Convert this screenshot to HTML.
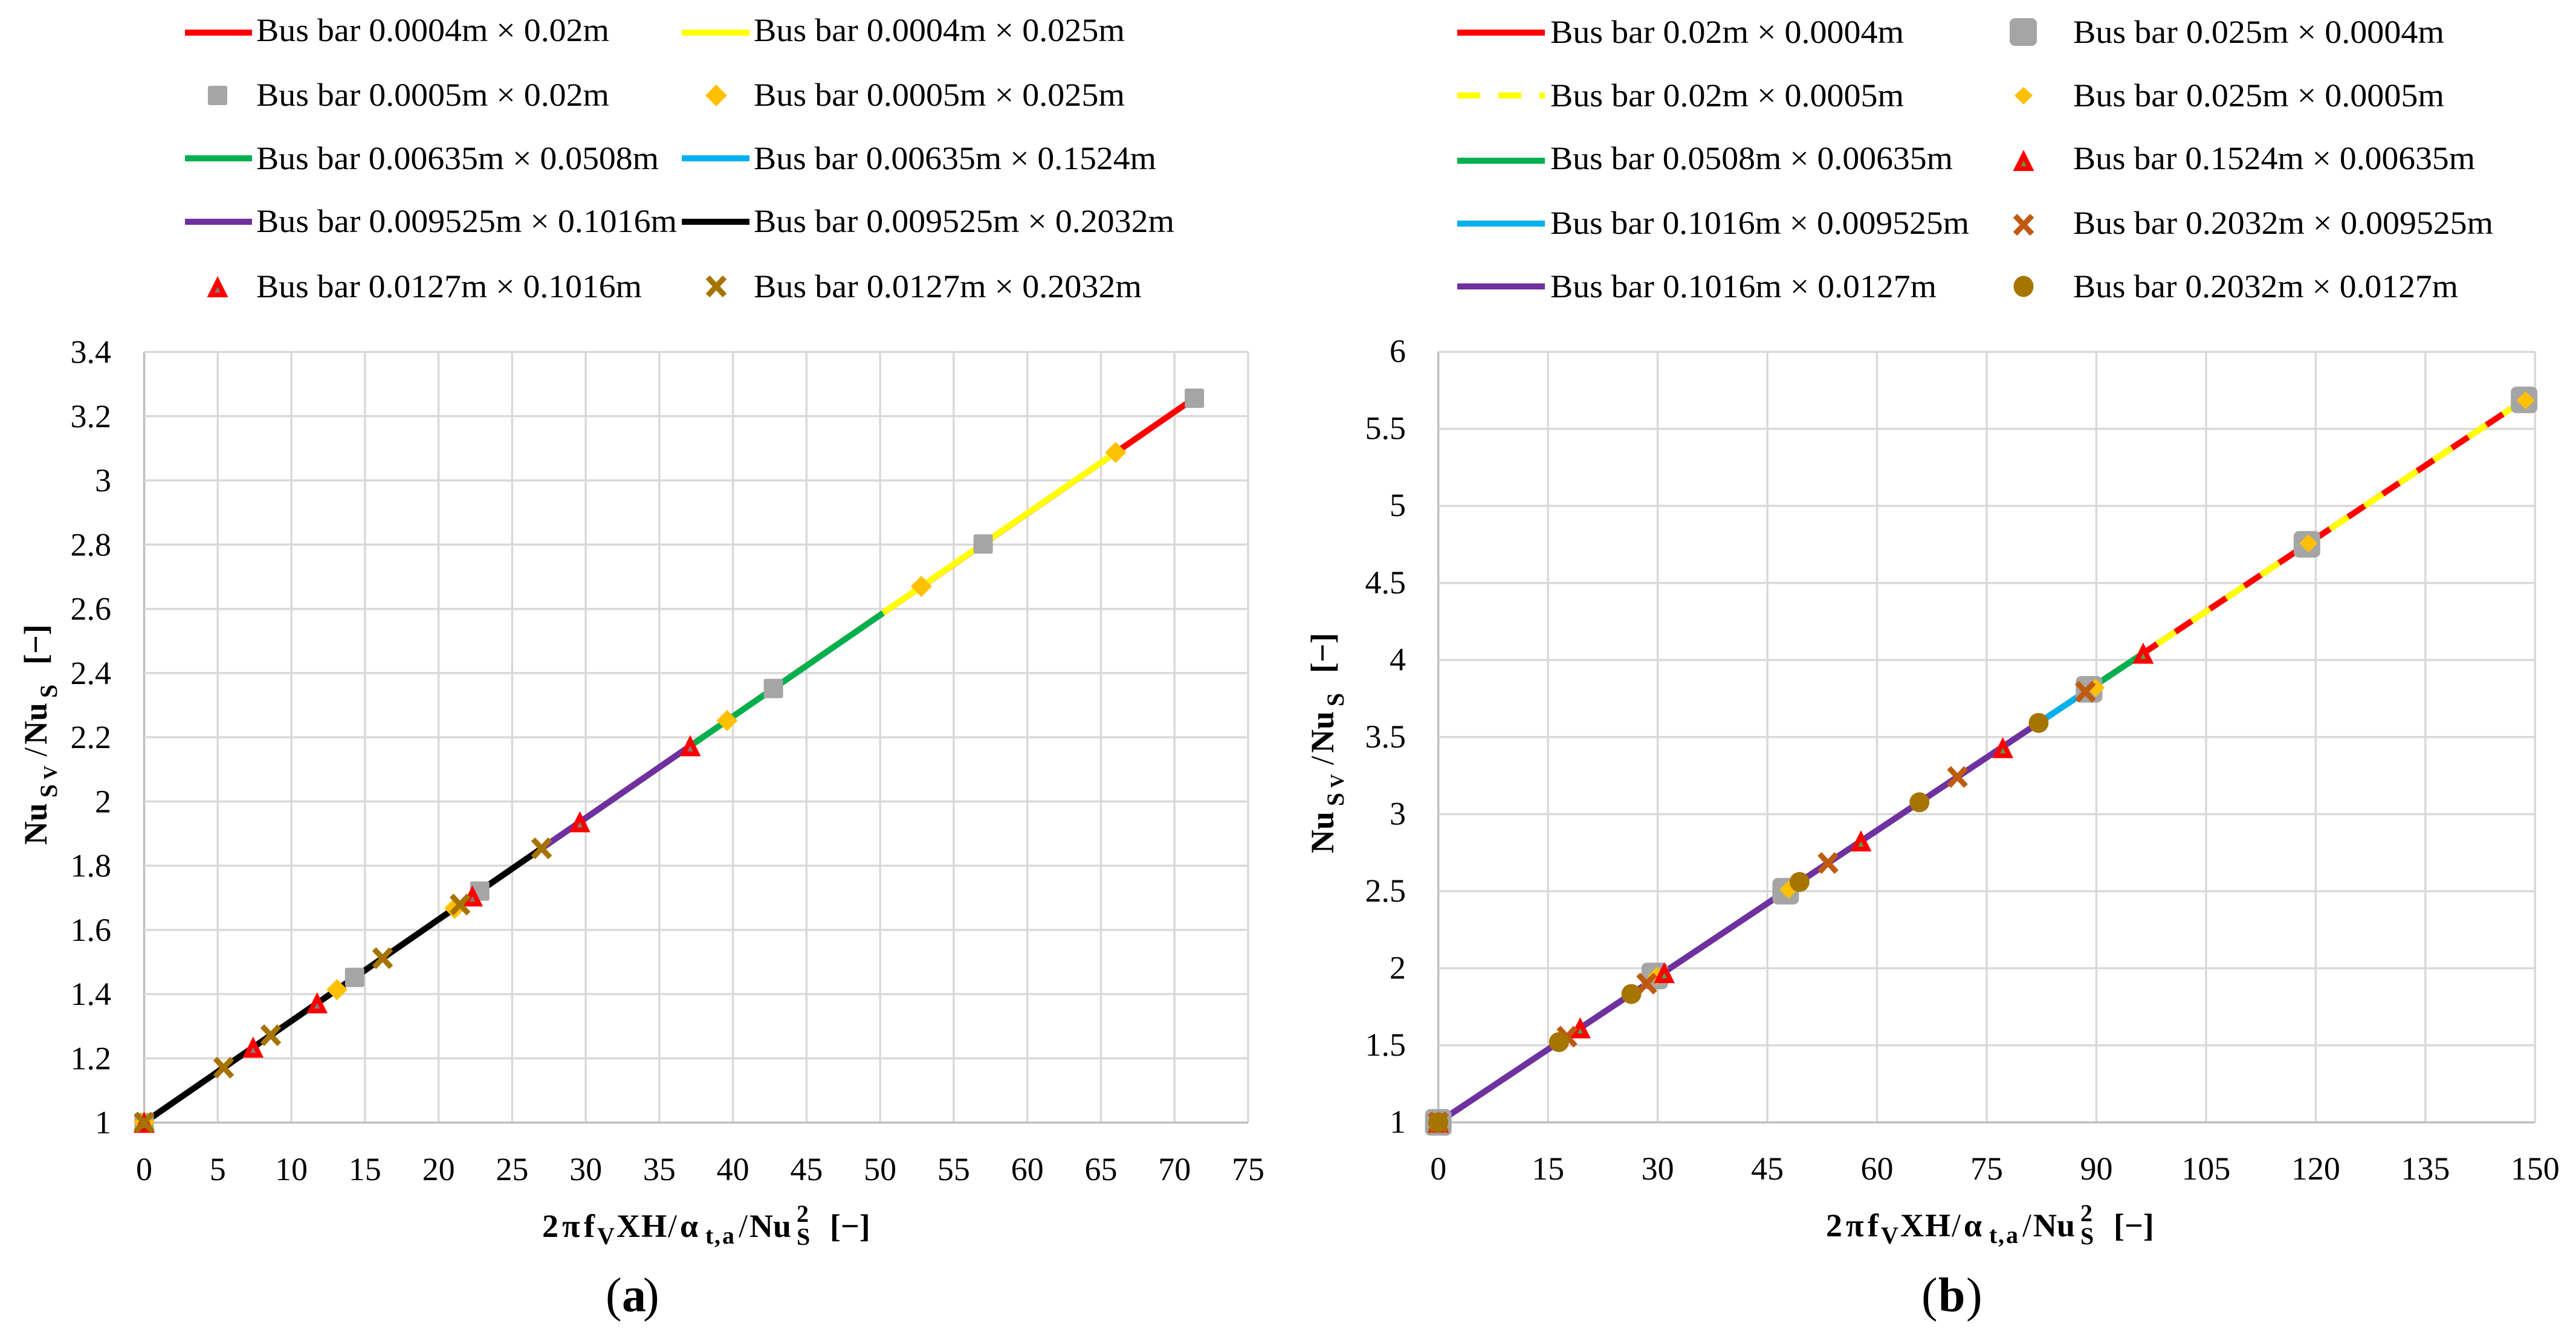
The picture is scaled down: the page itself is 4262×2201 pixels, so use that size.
<!DOCTYPE html>
<html lang="en">
<head>
<meta charset="utf-8">
<title>Nusselt number ratio charts</title>
<style>
html,body{margin:0;padding:0;background:#fff;}
svg{display:block;}
text{font-family:"Liberation Serif",serif;fill:#000;}
.leg{font-size:54px;}
.tick{font-size:54px;}
.title{font-size:54px;font-weight:bold;}
.sub{font-size:40px;font-weight:bold;}
.thin{font-weight:normal;}
.cap{font-size:80px;}
</style>
</head>
<body>
<svg id="figure" xmlns="http://www.w3.org/2000/svg" width="4262" height="2201" viewBox="0 0 4262 2201">
<rect x="0" y="0" width="4262" height="2201" fill="#fff"/>

<g id="legend-a">
  <line x1="306" y1="54" x2="417" y2="54" stroke="#FF0000" stroke-width="10"/>
  <text class="leg" x="424" y="68" textLength="584" lengthAdjust="spacingAndGlyphs">Bus bar 0.0004m × 0.02m</text>
  <line x1="1128" y1="54" x2="1240" y2="54" stroke="#FFFF00" stroke-width="10"/>
  <text class="leg" x="1247" y="68" textLength="614" lengthAdjust="spacingAndGlyphs">Bus bar 0.0004m × 0.025m</text>

  <rect x="344" y="142" width="32" height="32" rx="3" fill="#A5A5A5"/>
  <text class="leg" x="424" y="175" textLength="584" lengthAdjust="spacingAndGlyphs">Bus bar 0.0005m × 0.02m</text>
  <polygon points="1185,140 1203,158 1185,176 1167,158" fill="#FFC000"/>
  <text class="leg" x="1247" y="175" textLength="614" lengthAdjust="spacingAndGlyphs">Bus bar 0.0005m × 0.025m</text>

  <line x1="306" y1="262" x2="417" y2="262" stroke="#00B050" stroke-width="10"/>
  <text class="leg" x="424" y="280" textLength="666" lengthAdjust="spacingAndGlyphs">Bus bar 0.00635m × 0.0508m</text>
  <line x1="1128" y1="262" x2="1240" y2="262" stroke="#00B0F0" stroke-width="10"/>
  <text class="leg" x="1247" y="280" textLength="666" lengthAdjust="spacingAndGlyphs">Bus bar 0.00635m × 0.1524m</text>

  <line x1="306" y1="367" x2="417" y2="367" stroke="#7030A0" stroke-width="10"/>
  <text class="leg" x="424" y="384" textLength="696" lengthAdjust="spacingAndGlyphs">Bus bar 0.009525m × 0.1016m</text>
  <line x1="1128" y1="367" x2="1240" y2="367" stroke="#000000" stroke-width="10"/>
  <text class="leg" x="1247" y="384" textLength="696" lengthAdjust="spacingAndGlyphs">Bus bar 0.009525m × 0.2032m</text>

  <polygon points="360,466 349,488 371,488" fill="#808080" stroke="#FF0000" stroke-width="8"/>
  <text class="leg" x="424" y="492" textLength="638" lengthAdjust="spacingAndGlyphs">Bus bar 0.0127m × 0.1016m</text>
  <path d="M1171,459 L1199,489 M1199,459 L1171,489" stroke="#A57400" stroke-width="9" fill="none"/>
  <text class="leg" x="1247" y="492" textLength="642" lengthAdjust="spacingAndGlyphs">Bus bar 0.0127m × 0.2032m</text>
</g>

<g id="legend-b">
  <line x1="2411" y1="54" x2="2556" y2="54" stroke="#FF0000" stroke-width="10"/>
  <text class="leg" x="2565" y="71" textLength="585" lengthAdjust="spacingAndGlyphs">Bus bar 0.02m × 0.0004m</text>
  <rect x="3325" y="30" width="45" height="46" rx="9" fill="#A5A5A5"/>
  <text class="leg" x="3430" y="71" textLength="614" lengthAdjust="spacingAndGlyphs">Bus bar 0.025m × 0.0004m</text>

  <line x1="2411" y1="158" x2="2556" y2="158" stroke="#FFFF00" stroke-width="10" stroke-dasharray="38 30"/>
  <text class="leg" x="2565" y="176" textLength="585" lengthAdjust="spacingAndGlyphs">Bus bar 0.02m × 0.0005m</text>
  <polygon points="3348,144 3363,158 3348,173 3333,158" fill="#FFC000"/>
  <text class="leg" x="3430" y="176" textLength="614" lengthAdjust="spacingAndGlyphs">Bus bar 0.025m × 0.0005m</text>

  <line x1="2411" y1="266" x2="2556" y2="266" stroke="#00B050" stroke-width="10"/>
  <text class="leg" x="2565" y="280" textLength="666" lengthAdjust="spacingAndGlyphs">Bus bar 0.0508m × 0.00635m</text>
  <polygon points="3348,257 3337,279 3359,279" fill="#4CA64C" stroke="#FF0000" stroke-width="8"/>
  <text class="leg" x="3430" y="280" textLength="665" lengthAdjust="spacingAndGlyphs">Bus bar 0.1524m × 0.00635m</text>

  <line x1="2411" y1="370" x2="2556" y2="370" stroke="#00B0F0" stroke-width="10"/>
  <text class="leg" x="2565" y="387" textLength="693" lengthAdjust="spacingAndGlyphs">Bus bar 0.1016m × 0.009525m</text>
  <path d="M3334,357 L3362,387 M3362,357 L3334,387" stroke="#C05A11" stroke-width="9" fill="none"/>
  <text class="leg" x="3430" y="387" textLength="695" lengthAdjust="spacingAndGlyphs">Bus bar 0.2032m × 0.009525m</text>

  <line x1="2411" y1="474" x2="2556" y2="474" stroke="#7030A0" stroke-width="10"/>
  <text class="leg" x="2565" y="492" textLength="639" lengthAdjust="spacingAndGlyphs">Bus bar 0.1016m × 0.0127m</text>
  <ellipse cx="3348" cy="474" rx="16.5" ry="17.5" fill="#A67500"/>
  <text class="leg" x="3430" y="492" textLength="637" lengthAdjust="spacingAndGlyphs">Bus bar 0.2032m × 0.0127m</text>
</g>

<g id="plot-a"></g>
<g id="plot-b"></g>

<g>
  <text class="title" y="2047"><tspan x="897 930 966">2πf</tspan><tspan class="sub" x="988" y="2059">V</tspan><tspan x="1020 1061" y="2047">XH</tspan><tspan class="thin" x="1105">/</tspan><tspan x="1125">α</tspan><tspan class="sub" x="1167 1182 1195" y="2058">t,a</tspan><tspan class="thin" x="1222" y="2047">/</tspan><tspan x="1240">Nu</tspan><tspan class="sub" x="1318" y="2022">2</tspan><tspan class="sub" x="1318" y="2060">S</tspan><tspan x="1373" y="2047">[−]</tspan></text>
</g>
<g transform="translate(2124,-1)">
  <text class="title" y="2047"><tspan x="897 930 966">2πf</tspan><tspan class="sub" x="988" y="2059">V</tspan><tspan x="1020 1061" y="2047">XH</tspan><tspan class="thin" x="1105">/</tspan><tspan x="1125">α</tspan><tspan class="sub" x="1167 1182 1195" y="2058">t,a</tspan><tspan class="thin" x="1222" y="2047">/</tspan><tspan x="1240">Nu</tspan><tspan class="sub" x="1318" y="2022">2</tspan><tspan class="sub" x="1318" y="2060">S</tspan><tspan x="1373" y="2047">[−]</tspan></text>
</g>

<g transform="translate(77,1398) rotate(-90)">
  <text class="title" y="0"><tspan x="0">Nu</tspan><tspan style="font-size:40px" x="78" y="17">S</tspan><tspan style="font-size:32px" x="108" y="17">V</tspan><tspan class="thin" x="146" y="0">/</tspan><tspan x="166">Nu</tspan><tspan style="font-size:40px" x="243" y="17">S</tspan><tspan x="298" y="0">[−]</tspan></text>
</g>
<g transform="translate(2206,1412) rotate(-90)">
  <text class="title" y="0"><tspan x="0">Nu</tspan><tspan style="font-size:40px" x="78" y="17">S</tspan><tspan style="font-size:32px" x="108" y="17">V</tspan><tspan class="thin" x="146" y="0">/</tspan><tspan x="166">Nu</tspan><tspan style="font-size:40px" x="243" y="17">S</tspan><tspan x="298" y="0">[−]</tspan></text>
</g>

<text class="cap" y="2170"><tspan x="1002">(</tspan><tspan x="1029" font-weight="bold">a</tspan><tspan x="1064">)</tspan></text>
<text class="cap" y="2170"><tspan x="3179">(</tspan><tspan x="3207" font-weight="bold">b</tspan><tspan x="3253">)</tspan></text>
</svg>

<script>
// Axis ticks
const aXTicks = [0,5,10,15,20,25,30,35,40,45,50,55,60,65,70,75];
const aYTicks = [1,1.2,1.4,1.6,1.8,2,2.2,2.4,2.6,2.8,3,3.2,3.4];
const bXTicks = [0,15,30,45,60,75,90,105,120,135,150];
const bYTicks = [1,1.5,2,2.5,3,3.5,4,4.5,5,5.5,6];

// Chart (a) line series
const aRedX = [0,14.3,22.8,42.75,57,71.35];
const aRedY = [1,1.452,1.721,2.352,2.802,3.256];
const aYellowX = [0,13.1,21.1,39.6,52.8,66];
const aYellowY = [1,1.414,1.667,2.252,2.670,3.087];
const aGreenX = [0,50.2];
const aGreenY = [1,2.587];
const aBlueX = [0,33.4];
const aBlueY = [1,2.056];
const aPurpleX = [0,7.4,11.75,22.3,29.6,37.1];
const aPurpleY = [1,1.234,1.372,1.705,1.936,2.173];
const aBlackX = [0,5.4,8.6,16.2,21.46,27];
const aBlackY = [1,1.171,1.272,1.512,1.679,1.854];

// Chart (a) marker series
const aSquareX = [0,14.3,22.8,42.75,57,71.35];
const aSquareY = [1,1.452,1.721,2.352,2.802,3.256];
const aDiamondX = [0,13.1,21.1,39.6,52.8,66];
const aDiamondY = [1,1.414,1.667,2.252,2.670,3.087];
const aTriangleX = [0,7.4,11.75,22.3,29.6,37.1];
const aTriangleY = [1,1.234,1.372,1.705,1.936,2.173];
const aCrossX = [0,5.4,8.6,16.2,21.46,27];
const aCrossY = [1,1.171,1.272,1.512,1.679,1.854];

// Chart (b) line series
const bRedX = [0,29.6,47.5,89,118.8,148.5];
const bRedY = [1,1.934,2.5,3.81,4.751,5.688];
const bYellowX = [0,29.9,47.9,89.9,119,148.7];
const bYellowY = [1,1.944,2.512,3.838,4.757,5.694];
const bGreenX = [0,96.4];
const bGreenY = [1,4.043];
const bBlueX = [0,89];
const bBlueY = [1,3.81];
const bPurpleX = [0,16.5,26.4,49.4,65.8,82.1];
const bPurpleY = [1,1.521,1.833,2.56,3.077,3.592];

// Chart (b) marker series
const bSquareX = [0,29.6,47.5,89,118.8,148.5];
const bSquareY = [1,1.95,2.5,3.81,4.751,5.688];
const bDiamondX = [0,29.9,47.9,89.9,119,148.7];
const bDiamondY = [1,1.95,2.51,3.82,4.757,5.685];
const bTriangleX = [0,19.4,30.9,57.8,77.2,96.4];
const bTriangleY = [1,1.612,1.97,2.825,3.43,4.043];
const bCrossX = [0,17.6,28.5,53.3,71,88.5];
const bCrossY = [1,1.556,1.9,2.683,3.241,3.794];
const bCircleX = [0,16.5,26.4,49.4,65.8,82.1];
const bCircleY = [1,1.521,1.833,2.56,3.077,3.592];

const NS = 'http://www.w3.org/2000/svg';

function make(tag, parent, attrs) {
  const el = document.createElementNS(NS, tag);
  for (const k in attrs) el.setAttribute(k, attrs[k]);
  parent.appendChild(el);
  return el;
}

const frameA = {left:238.5, right:2065, top:582.5, bottom:1857.7, xMin:0, xMax:75, yMin:1, yMax:3.4, labelRight:184, labelDrop:18, xBase:1953};
const frameB = {left:2379.7, right:4194.3, top:582.2, bottom:1857.4, xMin:0, xMax:150, yMin:1, yMax:6, labelRight:2326, labelDrop:17, xBase:1952};

function sx(f, v) { return f.left + (v - f.xMin) / (f.xMax - f.xMin) * (f.right - f.left); }
function sy(f, v) { return f.bottom - (v - f.yMin) / (f.yMax - f.yMin) * (f.bottom - f.top); }

function drawAxes(g, f, xTicks, yTicks) {
  xTicks.forEach(function (t, i) {
    const x = sx(f, t);
    const line = make('line', g, {x1:x, x2:x, y1:f.top, y2:f.bottom, stroke: i === 0 ? '#BFBFBF' : '#D9D9D9', 'stroke-width':3.5});
    
    
    const label = make('text', g, {x:x, y:f.xBase, 'text-anchor':'middle', class:'tick'});
    label.textContent = String(t);
    
    
  });
  yTicks.forEach(function (t, i) {
    const y = sy(f, t);
    const line = make('line', g, {x1:f.left, x2:f.right, y1:y, y2:y, stroke: i === 0 ? '#BFBFBF' : '#D9D9D9', 'stroke-width':3.5});
    
    
    const label = make('text', g, {x:f.labelRight, y:y + f.labelDrop, 'text-anchor':'end', class:'tick'});
    label.textContent = String(t);
    
    
  });
}

function drawLine(g, f, xs, ys, color, width, dash, dashOffset) {
  const pts = xs.map(function (x, i) { return sx(f, x).toFixed(1) + ',' + sy(f, ys[i]).toFixed(1); }).join(' ');
  const attrs = {points:pts, fill:'none', stroke:color, 'stroke-width':width, 'stroke-linejoin':'round'};
  if (dash) { attrs['stroke-dasharray'] = dash; attrs['stroke-dashoffset'] = dashOffset; }
  const el = make('polyline', g, attrs);
  
  
}

function drawSquares(g, f, xs, ys, size, rx, color) {
  xs.forEach(function (x, i) {
    const el = make('rect', g, {x:sx(f, x) - size / 2, y:sy(f, ys[i]) - size / 2, width:size, height:size, rx:rx, fill:color});
    
    
  });
}

function drawDiamonds(g, f, xs, ys, size, color) {
  const h = size / 2;
  xs.forEach(function (x, i) {
    const cx = sx(f, x), cy = sy(f, ys[i]);
    const el = make('polygon', g, {points:[cx, cy - h, cx + h, cy, cx, cy + h, cx - h, cy].join(' '), fill:color});
    
    
  });
}

function drawTriangles(g, f, xs, ys, inner) {
  xs.forEach(function (x, i) {
    const cx = sx(f, x), cy = sy(f, ys[i]);
    const el = make('polygon', g, {points:[cx, cy - 9, cx - 11, cy + 13, cx + 11, cy + 13].join(' '), fill:inner, stroke:'#FF0000', 'stroke-width':8});
    
    
  });
}

function drawCrosses(g, f, xs, ys, color) {
  xs.forEach(function (x, i) {
    const cx = sx(f, x), cy = sy(f, ys[i]);
    const d = 'M' + (cx - 14) + ',' + (cy - 15) + ' L' + (cx + 14) + ',' + (cy + 15) + ' M' + (cx + 14) + ',' + (cy - 15) + ' L' + (cx - 14) + ',' + (cy + 15);
    const el = make('path', g, {d:d, fill:'none', stroke:color, 'stroke-width':9});
    
    
  });
}

function drawCircles(g, f, xs, ys, r, color) {
  xs.forEach(function (x, i) {
    const el = make('circle', g, {cx:sx(f, x), cy:sy(f, ys[i]), r:r, fill:color});
    
    
  });
}

const gA = document.getElementById('plot-a');
drawAxes(gA, frameA, aXTicks, aYTicks);
drawLine(gA, frameA, aRedX, aRedY, '#FF0000', 10);
drawLine(gA, frameA, aYellowX, aYellowY, '#FFFF00', 10);
drawLine(gA, frameA, aGreenX, aGreenY, '#00B050', 10);
drawLine(gA, frameA, aBlueX, aBlueY, '#00B0F0', 10);
drawLine(gA, frameA, aPurpleX, aPurpleY, '#7030A0', 10);
drawLine(gA, frameA, aBlackX, aBlackY, '#000000', 10);
drawSquares(gA, frameA, aSquareX, aSquareY, 32, 3, '#A5A5A5');
drawDiamonds(gA, frameA, aDiamondX, aDiamondY, 35, '#FFC000');
drawTriangles(gA, frameA, aTriangleX, aTriangleY, '#808080');
drawCrosses(gA, frameA, aCrossX, aCrossY, '#A57400');

const gB = document.getElementById('plot-b');
drawAxes(gB, frameB, bXTicks, bYTicks);
drawLine(gB, frameB, bRedX, bRedY, '#FF0000', 10);
drawLine(gB, frameB, bYellowX, bYellowY, '#FFFF00', 10, '36 32.7', 14);
drawLine(gB, frameB, bGreenX, bGreenY, '#00B050', 10);
drawLine(gB, frameB, bBlueX, bBlueY, '#00B0F0', 10);
drawLine(gB, frameB, bPurpleX, bPurpleY, '#7030A0', 10);
drawSquares(gB, frameB, bSquareX, bSquareY, 44, 9, '#A5A5A5');
drawDiamonds(gB, frameB, bDiamondX, bDiamondY, 30, '#FFC000');
drawTriangles(gB, frameB, bTriangleX, bTriangleY, '#4CA64C');
drawCrosses(gB, frameB, bCrossX, bCrossY, '#C05A11');
drawCircles(gB, frameB, bCircleX, bCircleY, 16.5, '#A67500');
</script>
</body>
</html>
